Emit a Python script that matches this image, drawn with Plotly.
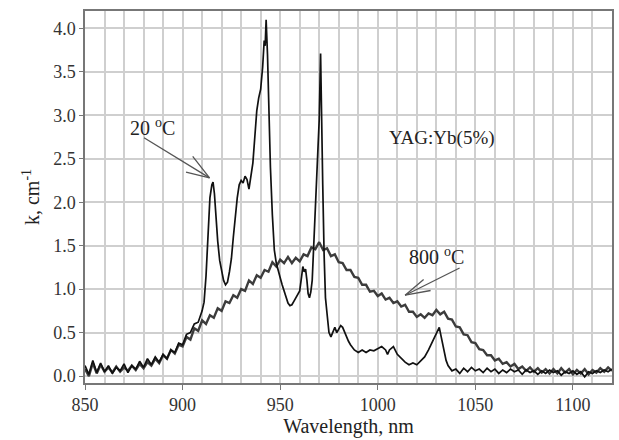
import plotly.graph_objects as go

# 20 °C spectrum (black)
wl_20 = [850, 852, 854, 856, 858, 860, 862, 864, 866, 868, 870, 872, 874, 876, 878, 880,
         882, 884, 886, 888, 890, 892, 894, 896, 898, 900, 902, 904, 906, 908, 910, 911,
         912, 913, 914, 915, 915.6, 916.3, 917, 918, 919, 920, 921, 922, 923, 924, 925, 926,
         927, 928, 929, 930, 931, 932, 933, 934, 935, 936, 937, 938, 939, 940, 941, 941.8,
         942.3, 942.8, 943.5, 944.3, 945, 946, 947, 948, 949, 950, 951, 952, 953, 954, 955,
         956, 957, 958, 959, 960, 961, 961.6, 962.3, 963, 963.7, 964.3, 965, 965.7, 966.4,
         967, 968, 969, 970, 970.7, 971.3, 971.8, 972.5, 973.2, 974, 975, 976, 977, 978,
         979, 980, 981, 982, 983, 984, 985, 986, 988, 990, 992, 994, 996, 998, 1000, 1002,
         1004, 1005, 1006, 1008, 1010, 1012, 1014, 1016, 1018, 1020, 1022, 1024, 1026, 1028,
         1030, 1031.5, 1032.5, 1034, 1035, 1036, 1038, 1040, 1042, 1044, 1046, 1048, 1050,
         1052, 1054, 1056, 1058, 1060, 1062, 1064, 1066, 1068, 1070, 1072, 1074, 1076, 1078,
         1080, 1082, 1084, 1086, 1088, 1090, 1092, 1094, 1096, 1098, 1100, 1102, 1104, 1106,
         1108, 1110, 1112, 1114, 1116, 1118, 1120]
k_20 = [0.12, 0.02, 0.18, 0.04, 0.15, 0.05, 0.12, 0.03, 0.10, 0.06, 0.14, 0.04, 0.12, 0.08, 0.17, 0.10,
        0.20, 0.13, 0.22, 0.16, 0.25, 0.20, 0.30, 0.27, 0.38, 0.36, 0.48, 0.50, 0.60, 0.62, 0.75, 0.85,
        1.15, 1.60, 2.05, 2.20, 2.23, 2.10, 1.85, 1.55, 1.33, 1.20, 1.10, 1.05, 1.08, 1.20, 1.35, 1.60,
        1.85, 2.05, 2.20, 2.25, 2.22, 2.30, 2.26, 2.15, 2.30, 2.45, 2.75, 3.05, 3.20, 3.30, 3.55, 3.86,
        3.80, 4.10, 3.70, 2.95, 2.40, 1.85, 1.45, 1.30, 1.20, 1.13, 1.05, 0.98, 0.90, 0.84, 0.81,
        0.82, 0.86, 0.90, 0.93, 0.98, 1.15, 1.26, 1.20, 1.23, 1.10, 0.95, 0.90, 0.97, 1.10,
        1.40, 1.90, 2.30, 2.95, 3.71, 3.10, 2.20, 1.40, 0.90, 0.72, 0.50, 0.45, 0.50, 0.56,
        0.50, 0.55, 0.58, 0.56, 0.50, 0.45, 0.40, 0.36, 0.30, 0.27, 0.30, 0.27, 0.30, 0.29, 0.32, 0.34,
        0.30, 0.25, 0.30, 0.34, 0.25, 0.20, 0.16, 0.13, 0.15, 0.13, 0.18, 0.22, 0.30, 0.40,
        0.50, 0.56, 0.45, 0.28, 0.18, 0.12, 0.06, 0.08, 0.03, 0.09, 0.05, 0.10, 0.06,
        0.08, 0.04, 0.09, 0.05, 0.08, 0.03, 0.07, 0.04, 0.08, 0.05, 0.07, 0.02, 0.07, 0.04,
        0.06, 0.02, 0.06, 0.03, 0.07, 0.04, 0.06, 0.01, 0.05, 0.03, 0.06, 0.02, 0.05, -0.01,
        0.05, 0.03, 0.06, 0.04, 0.07, 0.05, 0.08]

# 800 °C spectrum (dark grey)
wl_800 = list(range(850, 1121, 2))
k_800 = [0.08, 0.00, 0.15, 0.03, 0.13, 0.05, 0.10, 0.04, 0.11, 0.05, 0.10, 0.06, 0.12, 0.07, 0.14, 0.09,
         0.16, 0.12, 0.20, 0.15, 0.24, 0.20, 0.30, 0.26, 0.36, 0.34, 0.45, 0.42, 0.55, 0.52, 0.64, 0.60,
         0.70, 0.67, 0.78, 0.75, 0.86, 0.84, 0.93, 0.90, 1.00, 0.98, 1.10, 1.06, 1.16, 1.13, 1.22, 1.20,
         1.31, 1.26, 1.34, 1.30, 1.37, 1.30, 1.36, 1.32, 1.40, 1.38, 1.48, 1.46, 1.54, 1.45, 1.47, 1.38,
         1.40, 1.31, 1.30, 1.22, 1.22, 1.14, 1.13, 1.05, 1.05, 0.97, 0.98, 0.92, 0.95, 0.88, 0.90, 0.84,
         0.86, 0.80, 0.82, 0.74, 0.74, 0.68, 0.71, 0.67, 0.72, 0.70, 0.76, 0.71, 0.74, 0.66, 0.65, 0.57,
         0.56, 0.48, 0.47, 0.39, 0.38, 0.31, 0.30, 0.24, 0.24, 0.18, 0.20, 0.14, 0.16, 0.11, 0.14, 0.08,
         0.11, 0.06, 0.10, 0.05, 0.09, 0.04, 0.08, 0.03, 0.08, 0.03, 0.09, 0.04, 0.08, 0.02, 0.07, 0.03,
         0.08, 0.02, 0.07, 0.04, 0.09, 0.05, 0.10, 0.06]

x_ticks = [850, 900, 950, 1000, 1050, 1100]
y_ticks = [0.0, 0.5, 1.0, 1.5, 2.0, 2.5, 3.0, 3.5, 4.0]

FONT = "Liberation Serif, Times New Roman, serif"

fig = go.Figure()
fig.add_trace(go.Scatter(x=wl_800, y=k_800, mode="lines", name="800 °C",
                         line=dict(color="#3c3c3c", width=2.4)))
fig.add_trace(go.Scatter(x=wl_20, y=k_20, mode="lines", name="20 °C",
                         line=dict(color="#111111", width=1.7)))

grid_col = "#cfcfcf"
fig.update_layout(
    width=619, height=440,
    margin=dict(l=85, r=5, t=11, b=57),
    paper_bgcolor="white", plot_bgcolor="white",
    showlegend=False,
    font=dict(family=FONT, color="#222222", size=18),
    xaxis=dict(range=[850, 1120], tickvals=x_ticks, ticktext=[str(v) for v in x_ticks],
               showgrid=True, gridcolor=grid_col, gridwidth=1.5,
               minor=dict(dtick=10, tick0=850, showgrid=True, gridcolor=grid_col, gridwidth=1.5),
               showline=True, linecolor="#777777", linewidth=1.5, mirror=True,
               ticks="outside", ticklen=5, tickcolor="#777777",
               tickfont=dict(family=FONT, size=18, color="#333333"),
               title=dict(text="Wavelength, nm", font=dict(family=FONT, size=20, color="#222222"),
                          standoff=4),
               zeroline=False),
    yaxis=dict(range=[-0.08, 4.2], tickvals=y_ticks, ticktext=[f"{v:.1f}" for v in y_ticks],
               showgrid=True, gridcolor=grid_col, gridwidth=1.5,
               showline=True, linecolor="#777777", linewidth=1.5, mirror=True,
               ticks="outside", ticklen=4, tickcolor="#777777",
               tickfont=dict(family=FONT, size=18, color="#333333"),
               title=dict(text="k, cm<sup>-1</sup>", font=dict(family=FONT, size=20, color="#222222"),
                          standoff=8),
               zeroline=False),
)

arrow_col = "#555555"
# text labels
fig.add_annotation(x=884.7, y=2.86, text="20 <sup>o</sup>C", showarrow=False,
                   font=dict(family=FONT, size=20, color="#222222"))
fig.add_annotation(x=1030.0, y=1.38, text="800 <sup>o</sup>C", showarrow=False,
                   font=dict(family=FONT, size=20, color="#222222"))
fig.add_annotation(x=1032.7, y=2.74, text="YAG:Yb(5%)", showarrow=False,
                   font=dict(family=FONT, size=19, color="#222222"))

# arrows (shaft + two open barbs)
for (tx, ty, offsets) in [
    (913.8, 2.28, [(-67, -41), (-18, -23), (-25, -6)]),
    (1014.0, 0.93, [(56, -28), (20, -17), (27, -5)]),
]:
    for ax, ay in offsets:
        fig.add_annotation(x=tx, y=ty, text="", showarrow=True, arrowhead=0,
                           arrowwidth=1.3, arrowcolor=arrow_col, ax=ax, ay=ay,
                           standoff=0, startstandoff=0)

fig.write_html("out.html")
